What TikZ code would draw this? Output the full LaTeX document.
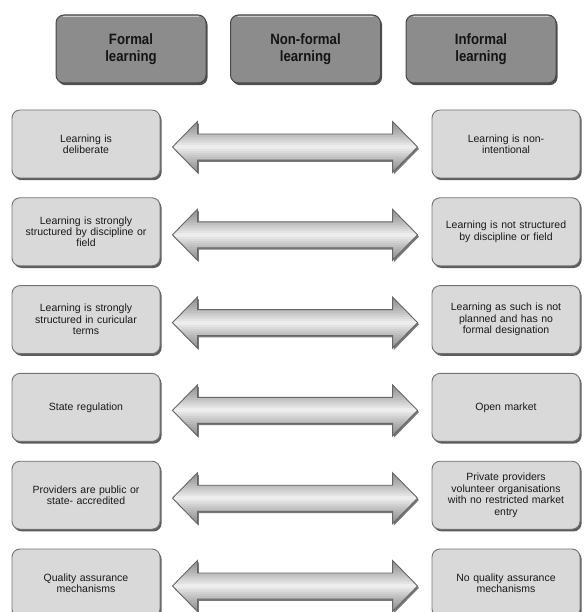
\documentclass[tikz,border=0pt]{standalone}
\usepackage{fontspec}
\setmainfont{Liberation Sans}
\newfontfamily\hdfont[FakeStretch=0.88]{Liberation Sans}
\usetikzlibrary{calc,shadows}
\def\arrowpath{(tA) -- ($(tA)+(25,-25.5)$) -- ($(tA)+(25,-13)$) -- ($(tB)+(-25,-13)$)
    -- ($(tB)+(-25,-25.5)$) -- (tB) -- ($(tB)+(-25,25.5)$) -- ($(tB)+(-25,13)$)
    -- ($(tA)+(25,13)$) -- ($(tA)+(25,25.5)$) -- cycle}
\newcommand\biarrow[2]{%
  \coordinate (tA) at ($(#1.east)+(12,3)$);
  \coordinate (tB) at ($(#2.west)+(-14,3)$);
  \fill[arrowshadow] \arrowpath;
  \begin{scope}
    \clip \arrowpath;
    \fill[black!7] ($(tA)+(0,-30)$) rectangle ($(tB)+(0,30)$);
    \foreach \k in {2,4,...,28} {
      \fill[arrowband] ($(tA)+(0,-30)$) rectangle ($(tB)+(0,-\k)$);
      \fill[arrowband] ($(tA)+(0,\k)$) rectangle ($(tB)+(0,30)$);
    }
  \end{scope}
  \draw[arrowline] \arrowpath;
}
\newcommand\bevel[2]{%
  \draw[line width=1.3pt, line cap=round, draw=#2] ($(#1.north west)+(8,2.2)$) -- ($(#1.north east)+(-8,2.2)$);
}
\begin{document}
\begin{tikzpicture}[x=1pt,y=-1pt,
  hdbox/.style={rounded corners=8pt, draw=black!72, line width=1pt, fill=black!45,
    minimum width=150pt, minimum height=68pt, inner sep=0pt, align=center,
    font=\hdfont\bfseries\fontsize{15}{16.5}\selectfont, text=black!92,
    drop shadow={shadow xshift=1.6pt, shadow yshift=-2.2pt, fill=black!80, opacity=0.85}},
  rowbox/.style={rounded corners=8pt, draw=black!55, line width=0.9pt, fill=black!15,
    minimum width=148pt, minimum height=68pt, text width=140pt, inner sep=0pt, align=center,
    font=\fontsize{10.5}{11.4}\selectfont, text=black!90,
    drop shadow={shadow xshift=1.6pt, shadow yshift=-2.2pt, fill=black!75, opacity=0.85}},
  arrowshadow/.style={fill=black!70, opacity=0.75, transform canvas={shift={(1.4pt,-1.8pt)}}},
  arrowband/.style={fill=black, opacity=0.04},
  arrowline/.style={draw=black!60, line width=0.9pt, line join=miter},
]
\useasboundingbox (0,0) rectangle (583,612);
\fill[white] (0,0) rectangle (583,612);

% headers
\node[hdbox] (h1) at (131,49) {Formal\\learning};
\node[hdbox] (h2) at (305.5,49) {Non-formal\\learning};
\node[hdbox] (h3) at (481,49) {Informal\\learning};
\bevel{h1}{black!20}\bevel{h2}{black!20}\bevel{h3}{black!20}

% rows
\node[rowbox] (l1) at (86,144) {Learning is\\deliberate};
\node[rowbox] (r1) at (506,144) {Learning is non-\\intentional};
\node[rowbox] (l2) at (86,231.8) {Learning is strongly\\structured by discipline or\\field};
\node[rowbox] (r2) at (506,231.8) {Learning is not structured\\by discipline or field};
\node[rowbox] (l3) at (86,319.6) {Learning is strongly\\structured in curicular\\terms};
\node[rowbox] (r3) at (506,319.6) {Learning as such is not\\planned and has no\\formal designation};
\node[rowbox] (l4) at (86,407.4) {State regulation};
\node[rowbox] (r4) at (506,407.4) {Open market};
\node[rowbox] (l5) at (86,495.2) {Providers are public or\\state- accredited};
\node[rowbox] (r5) at (506,495.2) {Private providers\\volunteer organisations\\with no restricted market\\entry};
\node[rowbox] (l6) at (86,583) {Quality assurance\\mechanisms};
\node[rowbox] (r6) at (506,583) {No quality assurance\\mechanisms};
\foreach \n in {l1,r1,l2,r2,l3,r3,l4,r4,l5,r5,l6,r6} {\bevel{\n}{white!85!black}}

% arrows
\biarrow{l1}{r1}
\biarrow{l2}{r2}
\biarrow{l3}{r3}
\biarrow{l4}{r4}
\biarrow{l5}{r5}
\biarrow{l6}{r6}
\end{tikzpicture}
\end{document}
